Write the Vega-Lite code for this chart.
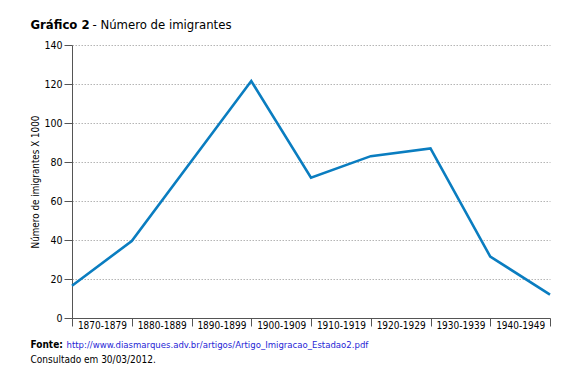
{
  "$schema": "https://vega.github.io/schema/vega-lite/v6.json",
  "width": 478,
  "height": 273,
  "autosize": {"type": "none"},
  "padding": {"left": 72, "top": 45, "right": 26, "bottom": 60},
  "background": "white",
  "config": {
    "view": {"stroke": null},
    "font": "DejaVu Sans Condensed, sans-serif"
  },
  "data": {
    "values": [
      {"i": 0, "v": 16.5},
      {"i": 1, "v": 39.5},
      {"i": 2, "v": 80.5},
      {"i": 3, "v": 121.5},
      {"i": 4, "v": 72},
      {"i": 5, "v": 83},
      {"i": 6, "v": 87},
      {"i": 7, "v": 31.5},
      {"i": 8, "v": 12}
    ]
  },
  "encoding": {
    "y": {
      "field": "v",
      "type": "quantitative",
      "scale": {"domain": [0, 140], "nice": false},
      "axis": {
        "values": [0, 20, 40, 60, 80, 100, 120, 140],
        "grid": true,
        "gridDash": [1.5, 1.5],
        "gridColor": "#b5b5b5",
        "gridWidth": 1,
        "domainColor": "#555555",
        "tickColor": "#555555",
        "tickSize": 8,
        "labelPadding": 2,
        "labelFontSize": 10.5,
        "labelColor": "black",
        "title": "Número de imigrantes X 1000",
        "titleFontSize": 9.8,
        "titleFontWeight": "normal",
        "titleColor": "black",
        "titleX": -37,
        "titleY": 136.5,
        "titleAngle": -90,
        "titleAlign": "center",
        "titleBaseline": "middle"
      }
    }
  },
  "layer": [
    {
      "mark": {"type": "line", "color": "#0a7dc0", "strokeWidth": 2.6},
      "encoding": {
        "x": {
          "field": "i",
          "type": "quantitative",
          "scale": {"domain": [0, 8], "nice": false, "zero": false},
          "axis": {
            "orient": "bottom",
            "values": [0, 1, 2, 3, 4, 5, 6, 7, 8],
            "grid": false,
            "tickSize": 8,
            "tickColor": "#555555",
            "domainColor": "#555555",
            "labelOffset": 29.9,
            "labelExpr": "datum.value < 8 ? ['1870-1879','1880-1889','1890-1899','1900-1909','1910-1919','1920-1929','1930-1939','1940-1949'][datum.value] : ''",
            "labelAlign": "center",
            "labelBaseline": "top",
            "labelPadding": -6,
            "labelFontSize": 10,
            "labelColor": "black",
            "labelFlush": false,
            "labelOverlap": false,
            "title": "Fonte:",
            "titleX": -42,
            "titleY": 29,
            "titleAlign": "left",
            "titleBaseline": "alphabetic",
            "titleFontSize": 10,
            "titleFontWeight": "bold",
            "titleColor": "black"
          }
        }
      }
    },
    {
      "mark": {"type": "point", "opacity": 0},
      "encoding": {
        "x": {
          "field": "i",
          "type": "quantitative",
          "axis": {
            "orient": "bottom",
            "domain": false,
            "ticks": false,
            "labels": false,
            "grid": false,
            "title": "http://www.diasmarques.adv.br/artigos/Artigo_Imigracao_Estadao2.pdf",
            "titleX": -6,
            "titleY": 29,
            "titleAlign": "left",
            "titleBaseline": "alphabetic",
            "titleFontSize": 9.5,
            "titleFontWeight": "normal",
            "titleColor": "#1f1fd6"
          }
        }
      }
    },
    {
      "mark": {"type": "point", "opacity": 0},
      "encoding": {
        "x": {
          "field": "i",
          "type": "quantitative",
          "axis": {
            "orient": "bottom",
            "domain": false,
            "ticks": false,
            "labels": false,
            "grid": false,
            "title": "Consultado em 30/03/2012.",
            "titleX": -42,
            "titleY": 44,
            "titleAlign": "left",
            "titleBaseline": "alphabetic",
            "titleFontSize": 10,
            "titleFontWeight": "normal",
            "titleColor": "black"
          }
        }
      }
    },
    {
      "mark": {"type": "point", "opacity": 0},
      "encoding": {
        "x": {
          "field": "i",
          "type": "quantitative",
          "axis": {
            "orient": "top",
            "domain": false,
            "ticks": false,
            "labels": false,
            "grid": false,
            "title": "Gráfico 2",
            "titleX": -42,
            "titleY": -17,
            "titleAlign": "left",
            "titleBaseline": "alphabetic",
            "titleFontSize": 13,
            "titleFontWeight": "bold",
            "titleColor": "black"
          }
        }
      }
    },
    {
      "mark": {"type": "point", "opacity": 0},
      "encoding": {
        "x": {
          "field": "i",
          "type": "quantitative",
          "axis": {
            "orient": "top",
            "domain": false,
            "ticks": false,
            "labels": false,
            "grid": false,
            "title": "- Número de imigrantes",
            "titleX": 20,
            "titleY": -17,
            "titleAlign": "left",
            "titleBaseline": "alphabetic",
            "titleFontSize": 13,
            "titleFontWeight": "normal",
            "titleColor": "black"
          }
        }
      }
    }
  ],
  "resolve": {"axis": {"x": "independent"}}
}
